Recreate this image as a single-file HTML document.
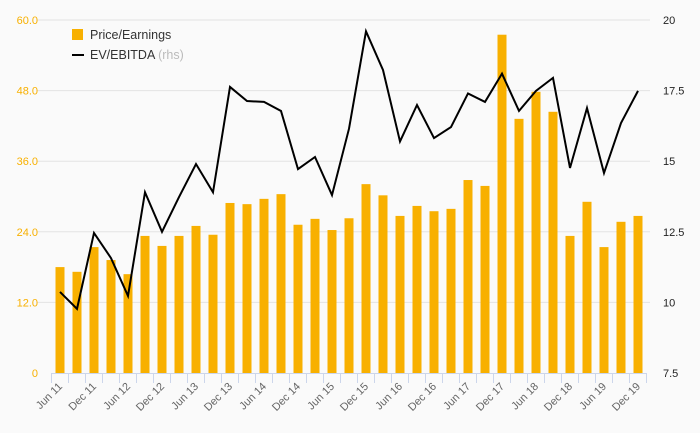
<!DOCTYPE html>
<html><head><meta charset="utf-8"><style>
html,body{margin:0;padding:0;background:#fafafa;}
svg{display:block;font-family:"Liberation Sans",sans-serif;}
</style></head><body>
<svg id="chart" width="700" height="433">
<rect width="700" height="433" fill="#fafafa"/>
<g id="grid"></g><g id="bars"></g><g id="line"></g><g id="axes"></g>
<g>
<rect x="72" y="29" width="11" height="11" fill="#f8b000"/>
<text x="90" y="39" font-size="12.5" fill="#333">Price/Earnings</text>
<line x1="72" y1="55" x2="84" y2="55" stroke="#000" stroke-width="2"/>
<text x="90" y="59" font-size="12.5" fill="#333">EV/EBITDA <tspan fill="#bbb">(rhs)</tspan></text>
</g>
</svg>
<script>
const categories=["Jun 11","Sep 11","Dec 11","Mar 12","Jun 12","Sep 12","Dec 12","Mar 13","Jun 13","Sep 13","Dec 13","Mar 14","Jun 14","Sep 14","Dec 14","Mar 15","Jun 15","Sep 15","Dec 15","Mar 16","Jun 16","Sep 16","Dec 16","Mar 17","Jun 17","Sep 17","Dec 17","Mar 18","Jun 18","Sep 18","Dec 18","Mar 19","Jun 19","Sep 19","Dec 19"];
const peValues=[18.0,17.2,21.4,19.2,16.8,23.3,21.6,23.3,25.0,23.5,28.9,28.7,29.6,30.4,25.2,26.2,24.3,26.3,32.1,30.2,26.7,28.4,27.5,27.9,32.8,31.8,57.5,43.2,47.8,44.4,23.3,29.1,21.4,25.7,26.7];
const evValues=[10.37,9.77,12.46,11.57,10.23,13.9,12.5,13.73,14.9,13.9,17.63,17.13,17.1,16.78,14.72,15.15,13.8,16.15,19.6,18.23,15.7,16.99,15.82,16.21,17.4,17.1,18.1,16.78,17.49,17.95,14.76,16.88,14.58,16.35,17.49];
const leftTicks=[0,12,24,36,48,60];
const leftTickLabels=["0","12.0","24.0","36.0","48.0","60.0"];
const rightTicks=[7.5,10,12.5,15,17.5,20];
const rightTickLabels=["7.5","10","12.5","15","17.5","20"];
const NS="http://www.w3.org/2000/svg";
const X0=51.5,BAND=17,Y0=373,Y1=20;
const xc=i=>X0+BAND*(i+0.5);
const yL=v=>Y0-(v/60)*(Y0-Y1);
const yR=v=>Y0-((v-7.5)/12.5)*(Y0-Y1);
function mk(tag,attrs,parent){const e=document.createElementNS(NS,tag);for(const k in attrs)e.setAttribute(k,attrs[k]);parent.appendChild(e);return e;}
const grid=document.getElementById('grid'),bars=document.getElementById('bars'),line=document.getElementById('line'),axes=document.getElementById('axes');
leftTicks.forEach((t,i)=>{
  if(i>0){const g=mk('line',{x1:X0-15,x2:650,y1:yL(t),y2:yL(t),stroke:'#e3e3e3','stroke-width':1},grid);
  
  }
  const tx=mk('text',{x:38,y:yL(t)+4,'text-anchor':'end','font-size':11,fill:'#f8b000'},axes);
  tx.textContent=leftTickLabels[i];
  
  
});
rightTicks.forEach((t,i)=>{
  const tx=mk('text',{x:663,y:yR(t)+4,'font-size':11,fill:'#222'},axes);
  tx.textContent=rightTickLabels[i];
  
  
});
peValues.forEach((v,i)=>{
  const r=mk('rect',{x:xc(i)-4.5,y:yL(v),width:9,height:Y0-yL(v),fill:'#f8b000'},bars);
  
  
});
const pl=mk('polyline',{points:evValues.map((v,i)=>xc(i)+','+yR(v)).join(' '),fill:'none',stroke:'#000','stroke-width':2,'stroke-linejoin':'miter'},line);


const ax=mk('line',{x1:X0,x2:X0+BAND*categories.length,y1:Y0+0.5,y2:Y0+0.5,stroke:'#ccd6eb','stroke-width':1},axes);


for(let i=0;i<=categories.length;i++){
  const tk=mk('line',{x1:X0+BAND*i,x2:X0+BAND*i,y1:Y0,y2:Y0+10,stroke:'#ccd6eb','stroke-width':1},axes);
  
  
}
categories.forEach((c,i)=>{
  if(i%2)return;
  const x=xc(i)+3,y=Y0+14;
  const tx=mk('text',{x:x,y:y,'text-anchor':'end','font-size':11,fill:'#666',transform:`rotate(-45 ${x} ${y})`},axes);
  tx.textContent=c;
  
  
});
</script>
</body></html>
